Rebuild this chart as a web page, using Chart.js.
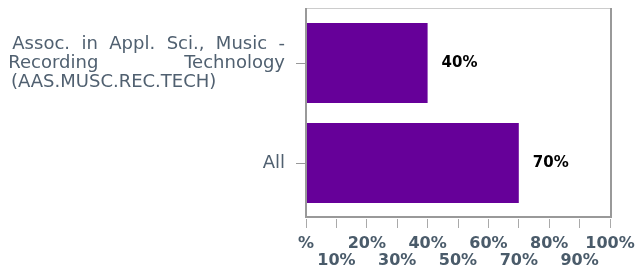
<!DOCTYPE html>
<html>
<head>
<meta charset="utf-8">
<script src="https://cdn.jsdelivr.net/npm/chart.js@4/dist/chart.umd.min.js"></script>
<style>
    html, body { margin: 0; padding: 0; background: #fff; }
    #wrap { width: 636px; height: 272px; }
</style>
</head>
<body>
<div id="wrap"><canvas id="chart"></canvas></div>
<script>
// Chart data
const categories = [
    ['Assoc.  in  Appl.  Sci.,  Music  -',
     'Recording               Technology',
     '(AAS.MUSC.REC.TECH)            '],
    'All'
];
const values = [40, 70];
const xTickLabels = ['%', '10%', '20%', '30%', '40%', '50%', '60%', '70%', '80%', '90%', '100%'];

// Value labels at the end of each bar
const barLabels = {
    id: 'barLabels',
    afterDatasetsDraw(chart) {
        const ctx = chart.ctx;
        ctx.save();
        ctx.font = 'bold 15px "DejaVu Sans"';
        ctx.fillStyle = '#000';
        ctx.textAlign = 'left';
        ctx.textBaseline = 'middle';
        chart.getDatasetMeta(0).data.forEach(function(bar, i) {
            ctx.fillText(values[i] + '%', bar.x + 14, bar.y);
        });
        ctx.restore();
    }
};

// Plot frame, drawn a little outside the category area
const plotFrame = {
    id: 'plotFrame',
    afterDraw(chart) {
        const a = chart.chartArea;
        const top = a.top - 5, bottom = a.bottom + 3;
        const ctx = chart.ctx;
        ctx.save();
        ctx.strokeStyle = '#cccccc';
        ctx.lineWidth = 1;
        ctx.beginPath();
        ctx.moveTo(a.left, top + 0.5);
        ctx.lineTo(a.right, top + 0.5);
        ctx.stroke();
        ctx.strokeStyle = '#999999';
        ctx.lineWidth = 2;
        ctx.beginPath();
        ctx.moveTo(a.left, top);
        ctx.lineTo(a.left, bottom + 1);
        ctx.moveTo(a.right + 1, top);
        ctx.lineTo(a.right + 1, bottom + 1);
        ctx.moveTo(a.left - 1, bottom + 1);
        ctx.lineTo(a.right + 2, bottom + 1);
        ctx.stroke();
        ctx.restore();
    }
};

const ctx = document.getElementById('chart').getContext('2d');
const chart = new Chart(ctx, {
    type: 'bar',
    data: {
        labels: categories,
        datasets: [{
            data: values,
            backgroundColor: '#660099',
            borderWidth: 0,
            categoryPercentage: 1,
            barPercentage: 0.8
        }]
    },
    options: {
        indexAxis: 'y',
        responsive: true,
        maintainAspectRatio: false,
        animation: false,
        layout: { padding: { left: 0, right: 26, top: 13, bottom: 0 } },
        plugins: {
            legend: { display: false },
            tooltip: { enabled: false }
        },
        scales: {
            x: {
                min: 0,
                max: 100,
                afterFit: function(scale) {
                    scale.height = 59;
                    scale.paddingLeft = 0;
                    scale.paddingRight = 0;
                },
                border: { display: false },
                grid: {
                    drawOnChartArea: false,
                    tickLength: 15,
                    tickColor: '#aaaaaa',
                    tickBorderDash: [0, 6, 9, 100]
                },
                ticks: {
                    stepSize: 10,
                    autoSkip: false,
                    maxRotation: 0,
                    minRotation: 0,
                    padding: 7,
                    color: '#4a5b6a',
                    font: { family: '"DejaVu Sans"', size: 16, weight: 'bold', lineHeight: 1.06 },
                    callback: function(value, index) {
                        return index % 2 ? ['', xTickLabels[index]] : xTickLabels[index];
                    }
                }
            },
            y: {
                afterFit: function(scale) {
                    scale.width = 306;
                    scale.paddingTop = 0;
                    scale.paddingBottom = 0;
                },
                border: { display: false },
                grid: {
                    offset: false,
                    drawOnChartArea: false,
                    tickLength: 10,
                    tickColor: '#999999'
                },
                ticks: {
                    padding: 11,
                    color: '#506070',
                    font: { family: '"DejaVu Sans"', size: 18, lineHeight: 19 / 18 }
                }
            }
        }
    },
    plugins: [barLabels, plotFrame]
});
</script>
</body>
</html>
